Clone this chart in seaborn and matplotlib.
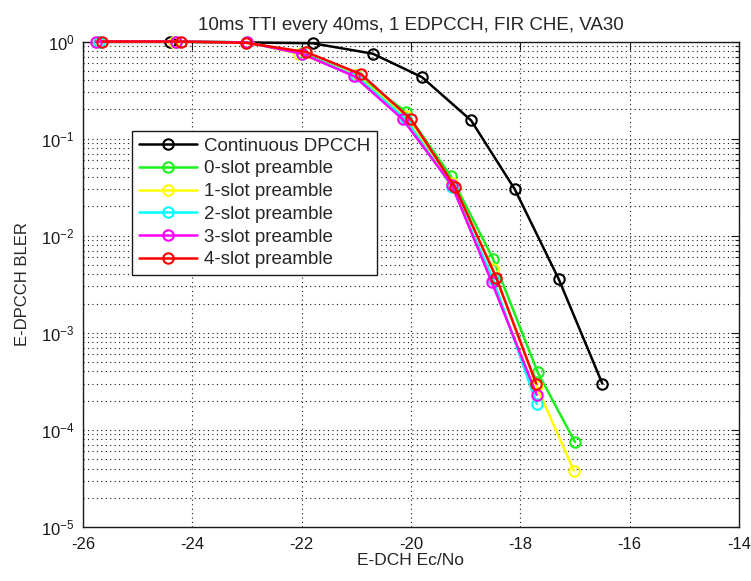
import numpy as np
import pandas as pd
import seaborn as sns
import matplotlib.pyplot as plt
from matplotlib.ticker import LogLocator, NullFormatter

# E-DCH Ec/No (dB) and E-DPCCH BLER
x_cont = [-24.4, -21.8, -20.7, -19.8, -18.9, -18.1, -17.3, -16.5]
y_cont = [1.0, 0.96, 0.75, 0.43, 0.154, 0.030, 0.0036, 3.0e-4]

x_pre0 = [-25.7, -24.3, -23.0, -22.0, -21.0, -20.1, -19.27, -18.5, -17.68, -17.0]
y_pre0 = [1.0, 1.0, 0.98, 0.76, 0.45, 0.19, 0.041, 0.0058, 3.9e-4, 7.5e-5]

x_pre1 = [-25.7, -24.33, -23.0, -22.04, -21.0, -20.1, -19.25, -18.5, -17.7, -17.02]
y_pre1 = [1.0, 1.0, 0.98, 0.745, 0.45, 0.17, 0.035, 0.0045, 2.8e-4, 3.8e-5]

x_pre2 = [-25.7, -24.3, -23.0, -22.0, -21.0, -20.1, -19.25, -18.5, -17.7]
y_pre2 = [1.0, 1.0, 0.98, 0.75, 0.44, 0.16, 0.032, 0.0036, 1.85e-4]

x_pre3 = [-25.77, -24.3, -23.0, -22.0, -21.04, -20.15, -19.25, -18.52, -17.7]
y_pre3 = [1.0, 1.0, 0.98, 0.75, 0.44, 0.158, 0.033, 0.0033, 2.3e-4]

x_pre4 = [-25.65, -24.21, -23.02, -21.92, -20.91, -20.0, -19.2, -18.44, -17.71]
y_pre4 = [1.0, 1.0, 0.97, 0.78, 0.46, 0.158, 0.032, 0.0037, 3.0e-4]

series = [
    ("Continuous DPCCH", x_cont, y_cont, (0, 0, 0)),
    ("0-slot preamble", x_pre0, y_pre0, (0.1, 0.95, 0.1)),
    ("1-slot preamble", x_pre1, y_pre1, (1.0, 1.0, 0.0)),
    ("2-slot preamble", x_pre2, y_pre2, (0.0, 1.0, 1.0)),
    ("3-slot preamble", x_pre3, y_pre3, (1.0, 0.0, 1.0)),
    ("4-slot preamble", x_pre4, y_pre4, (1.0, 0.0, 0.0)),
]

sns.set_theme(style="white")
plt.rcParams['font.family'] = ['Liberation Sans', 'DejaVu Sans']
plt.rcParams['axes.unicode_minus'] = False
plt.rcParams['mathtext.fontset'] = 'custom'
plt.rcParams['mathtext.rm'] = 'Liberation Sans'
plt.rcParams['mathtext.it'] = 'Liberation Sans'

fig = plt.figure(figsize=(7.51, 5.81), dpi=100)
ax = fig.add_axes([0.1105, 0.093, 0.8735, 0.8355])

for i, (name, xs, ys, col) in enumerate(series):
    df = pd.DataFrame({'ecno': xs, 'bler': ys})
    sns.lineplot(data=df, x='ecno', y='bler', ax=ax, label=name, color=col,
                 estimator=None, sort=False, lw=1.8, marker='o', ms=7.5,
                 markerfacecolor='none', markeredgecolor=col, mew=1.5,
                 clip_on=False, zorder=3 + i)

ax.set_yscale('log')
ax.set_xlim(-26, -14)
ax.set_ylim(1e-5, 1)
ax.set_xticks(np.arange(-26, -13, 2))
ax.yaxis.set_major_locator(LogLocator(base=10, numticks=10))
ax.yaxis.set_minor_locator(LogLocator(base=10, subs=np.arange(2, 10), numticks=20))
ax.yaxis.set_minor_formatter(NullFormatter())

dots = (0, (1, 3))
ax.grid(True, which='major', axis='both', color='k', linestyle=dots, lw=0.8)
ax.grid(True, which='minor', axis='y', color='k', linestyle=dots, lw=0.8)

for s in ax.spines.values():
    s.set_color('k')
    s.set_linewidth(1.0)
    s.set_zorder(2)
ax.tick_params(which='both', direction='in', top=True, right=True,
               colors='k', labelsize=12)
ax.tick_params(which='major', length=6, width=0.8)
ax.tick_params(which='minor', length=3, width=0.8)
ax.tick_params(axis='x', pad=7)
ax.tick_params(axis='y', pad=6)

ax.set_title('10ms TTI every 40ms, 1 EDPCCH, FIR CHE, VA30', fontsize=13.5, pad=8)
ax.set_xlabel('E-DCH Ec/No', fontsize=12.5, labelpad=1)
ax.set_ylabel('E-DPCCH BLER', fontsize=12, labelpad=8)

leg = ax.legend(loc='upper left', bbox_to_anchor=(0.0747, 0.8157), borderaxespad=0,
                fontsize=13.5, frameon=True, fancybox=False, framealpha=1,
                edgecolor='k', handlelength=3.1, handletextpad=0.4,
                labelspacing=0.3, borderpad=0.35)
leg.get_frame().set_linewidth(1.0)
leg.set_zorder(20)

fig.savefig('out.png', dpi=100, facecolor='white')
